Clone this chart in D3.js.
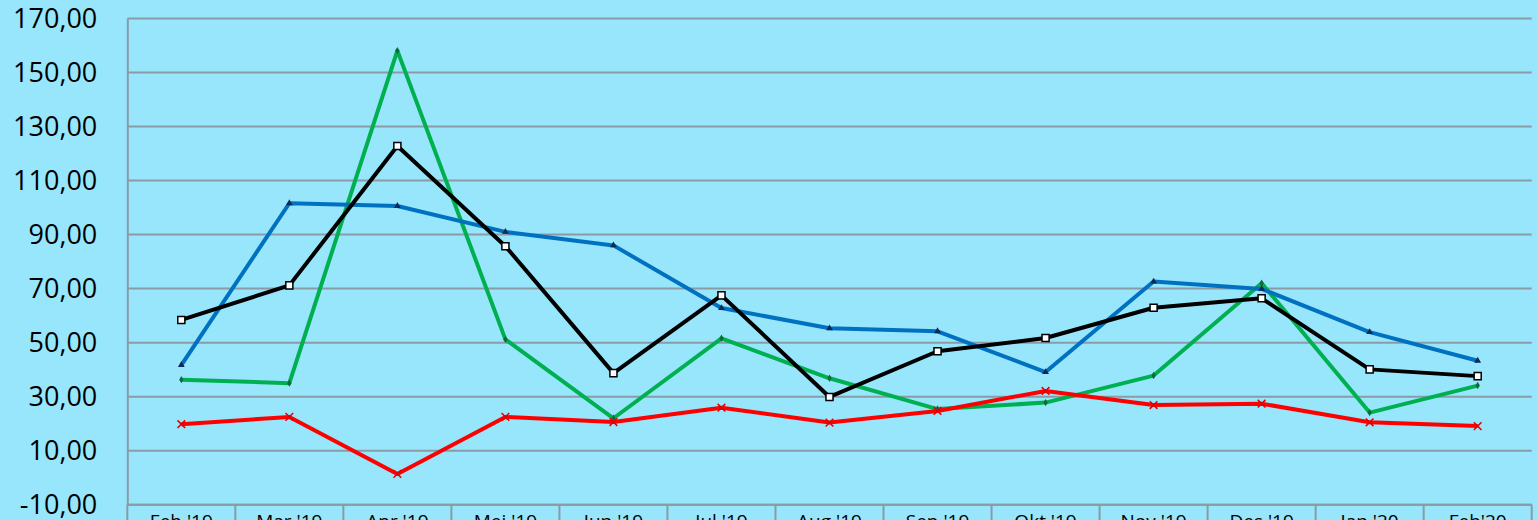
<!DOCTYPE html>
<html>
<head>
<meta charset="utf-8">
<script src="https://cdn.jsdelivr.net/npm/d3@7"></script>
<style>
  html, body { margin: 0; padding: 0; background: #97e6fc; overflow: hidden; }
  svg { display: block; font-family: "Open Sans", sans-serif; }
</style>
</head>
<body>
<svg width="1537" height="520"></svg>
<script>
var months = ["Feb '19", "Mar '19", "Apr '19", "Mei '19", "Jun '19", "Jul '19", "Aug '19",
  "Sep '19", "Okt '19", "Nov '19", "Des '19", "Jan '20", "Feb'20"];

var blackVals = [58.4, 71.2, 122.8, 85.7, 38.7, 67.5, 29.9, 46.8, 51.7, 62.9, 66.4, 40.1, 37.6];
var blueVals  = [41.7, 101.6, 100.6, 91.0, 86.0, 62.8, 55.3, 54.2, 39.1, 72.6, 69.9, 53.9, 43.3];
var greenVals = [36.3, 35.0, 158.1, 51.2, 22.0, 51.6, 36.8, 25.4, 27.8, 37.8, 72.0, 24.1, 34.1];
var redVals   = [19.8, 22.5, 1.4, 22.5, 20.6, 25.9, 20.4, 24.7, 32.1, 26.9, 27.4, 20.5, 19.1];

var yTicks = [-10, 10, 30, 50, 70, 90, 110, 130, 150, 170];

var svg = d3.select("svg");
var margin = { top: 18.5, right: 5.3, bottom: 15.3, left: 127.3 };
var width = +svg.attr("width") - margin.left - margin.right;
var height = +svg.attr("height") - margin.top - margin.bottom;

var gridColor = "#8a9ba5";

svg.append("rect")
  .attr("width", 1537).attr("height", 520)
  .attr("fill", "#97e6fc");

var x = d3.scaleBand().domain(months).range([0, width]);
var y = d3.scaleLinear().domain([-10, 170]).range([height, 0]);

var loc = d3.formatLocale({ decimal: ",", thousands: ".", grouping: [3], currency: ["", ""], minus: "-" });
var fmt = loc.format(".2f");

var g = svg.append("g")
  .attr("transform", "translate(" + margin.left + "," + margin.top + ")");

// gridlines
g.append("g").selectAll("line")
  .data(yTicks)
  .enter().append("line")
    .attr("x1", 0).attr("x2", width)
    .attr("y1", function(d) { return y(d); })
    .attr("y2", function(d) { return y(d); })
    .attr("stroke", gridColor)
    .attr("stroke-width", 2);

// y axis
var yAxis = g.append("g")
  .call(d3.axisLeft(y).tickValues(yTicks).tickFormat(fmt).tickSize(0).tickPadding(30));
yAxis.select(".domain").attr("stroke", gridColor).attr("stroke-width", 2);
yAxis.selectAll("text")
  .attr("font-size", 27)
  .attr("fill", "#000")
  .attr("font-family", "Open Sans, sans-serif");

// x axis: category boxes below the plot
var xAxis = g.append("g")
  .attr("transform", "translate(0," + height + ")")
  .call(d3.axisBottom(x).tickSize(0).tickPadding(10));
xAxis.select(".domain").remove();
xAxis.append("line")
  .attr("x1", 0).attr("x2", width)
  .attr("stroke", gridColor).attr("stroke-width", 2);
xAxis.selectAll(".sep")
  .data(months.concat(["end"]))
  .enter().append("line")
    .attr("class", "sep")
    .attr("x1", function(d, i) { return i * x.step(); })
    .attr("x2", function(d, i) { return i * x.step(); })
    .attr("y1", 0).attr("y2", 20)
    .attr("stroke", gridColor).attr("stroke-width", 2);
xAxis.selectAll(".tick text")
  .attr("font-size", 19)
  .attr("fill", "#000")
  .attr("font-family", "Open Sans, sans-serif");

var cx = function(d, i) { return x(months[i]) + x.bandwidth() / 2; };
var line = d3.line().x(cx).y(function(d) { return y(d); });

var series = [
  { name: "green", vals: greenVals, color: "#00b050", marker: "diamond", mcol: "#0b6b3a" },
  { name: "red", vals: redVals, color: "#ff0000", marker: "cross", mcol: "#e00000" },
  { name: "blue", vals: blueVals, color: "#0070c0", marker: "triangle", mcol: "#0a2a5a" },
  { name: "black", vals: blackVals, color: "#000000", marker: "square", mcol: "#000" }
];

series.forEach(function(s) {
  g.append("path")
    .datum(s.vals)
    .attr("fill", "none")
    .attr("stroke", s.color)
    .attr("stroke-width", 4)
    .attr("stroke-linejoin", "round")
    .attr("d", line);

  var pts = g.append("g").selectAll("path")
    .data(s.vals)
    .enter().append("path")
      .attr("transform", function(d, i) { return "translate(" + cx(d, i) + "," + y(d) + ")"; });

  if (s.marker === "square") {
    pts.attr("d", d3.symbol(d3.symbolSquare, 50))
      .attr("fill", "#fff").attr("stroke", "#000").attr("stroke-width", 1.5);
  } else if (s.marker === "triangle") {
    pts.attr("d", d3.symbol(d3.symbolTriangle, 20))
      .attr("fill", s.mcol);
  } else if (s.marker === "diamond") {
    pts.attr("d", d3.symbol(d3.symbolDiamond, 16))
      .attr("fill", s.mcol);
  } else {
    pts.attr("d", d3.symbol(d3.symbolX, 40))
      .attr("fill", "none").attr("stroke", s.mcol).attr("stroke-width", 1.5);
  }
});
</script>
</body>
</html>
